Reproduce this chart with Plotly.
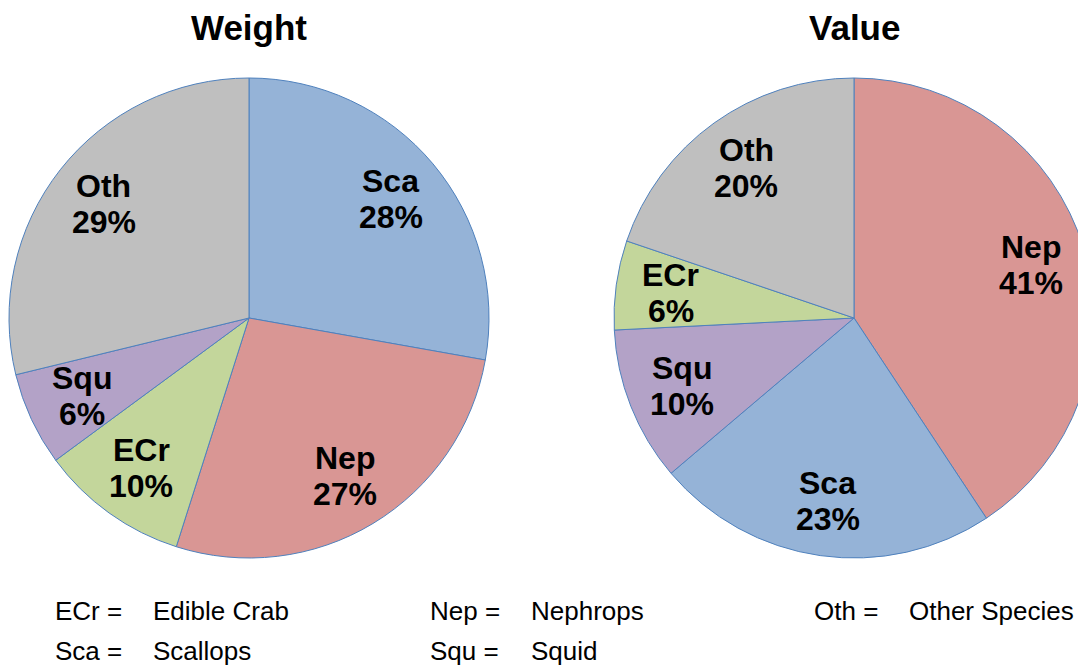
import math

import plotly.graph_objects as go

W, H = 1086, 665
OFF = 8  # page body margin shifts the whole figure by this much

# slice order as drawn, clockwise from 12 o'clock
weight_labels = ["Sca", "Nep", "ECr", "Squ", "Oth"]
weight_values = [27.8, 27.1, 10.0, 6.3, 28.8]

value_labels = ["Nep", "Sca", "Squ", "ECr", "Oth"]
value_values = [40.7, 23.1, 10.4, 6.0, 19.8]

COLORS = {
    "Sca": "#95B3D7",
    "Nep": "#D99694",
    "ECr": "#C3D69B",
    "Squ": "#B3A2C7",
    "Oth": "#BFBFBF",
}

legend_rows = [
    [("ECr =", "Edible Crab"), ("Nep =", "Nephrops"), ("Oth =", "Other Species")],
    [("Sca =", "Scallops"), ("Squ =", "Squid")],
]

FONT = "Liberation Sans, Arial, sans-serif"
R = 240
LABEL_R = 0.77


def paper(px, py):
    return (px - OFF) / W, 1 - (py - OFF) / H


def make_pie(labels, values, cx, cy):
    x0, y1 = paper(cx - R, cy - R)
    x1, y0 = paper(cx + R, cy + R)
    return go.Pie(
        labels=labels,
        values=values,
        sort=False,
        direction="clockwise",
        rotation=0,
        domain=dict(x=[x0, x1], y=[y0, y1]),
        marker=dict(
            colors=[COLORS[l] for l in labels],
            line=dict(color="#4F81BD", width=1),
        ),
        textinfo="none",
        hoverinfo="label+percent",
        showlegend=False,
    )


def slice_labels(labels, values, cx, cy):
    out = []
    total = sum(values)
    cum = 0.0
    for lab, v in zip(labels, values):
        theta = 2 * math.pi * (cum + v / 2) / total
        cum += v
        px = cx + LABEL_R * R * math.sin(theta)
        py = cy - LABEL_R * R * math.cos(theta)
        x, y = paper(px, py)
        pct = f"{round(100 * v / total)}%"
        for txt, shift in ((lab, 18), (pct, -18)):
            out.append(dict(x=x, y=y, text=f"<b>{txt}</b>", yshift=shift,
                            font=dict(size=32)))
    return out


fig = go.Figure()
fig.add_trace(make_pie(weight_labels, weight_values, 249, 318))
fig.add_trace(make_pie(value_labels, value_values, 854, 318))

annotations = []
for txt, px in (("Weight", 249), ("Value", 854)):
    x, y = paper(px, 27)
    annotations.append(dict(x=x, y=y, text=f"<b>{txt}</b>", font=dict(size=35),
                            borderpad=0))

annotations += slice_labels(weight_labels, weight_values, 249, 318)
annotations += slice_labels(value_labels, value_values, 854, 318)

col_x = [(53, 151), (428, 529), (812, 907)]
row_y = [611, 651]
for r, row in enumerate(legend_rows):
    for c, (abbr, name) in enumerate(row):
        for txt, px in zip((abbr, name), col_x[c]):
            x, y = paper(px, row_y[r])
            annotations.append(dict(x=x, y=y, text=txt, xanchor="left",
                                    font=dict(size=26)))

for a in annotations:
    a.setdefault("xanchor", "center")
    a.update(xref="paper", yref="paper", yanchor="middle", showarrow=False)
    a["font"].update(family=FONT, color="black")

fig.update_layout(
    width=W,
    height=H,
    margin=dict(l=0, r=0, t=0, b=0),
    paper_bgcolor="white",
    plot_bgcolor="white",
    annotations=annotations,
)

fig.write_html("out.html")
